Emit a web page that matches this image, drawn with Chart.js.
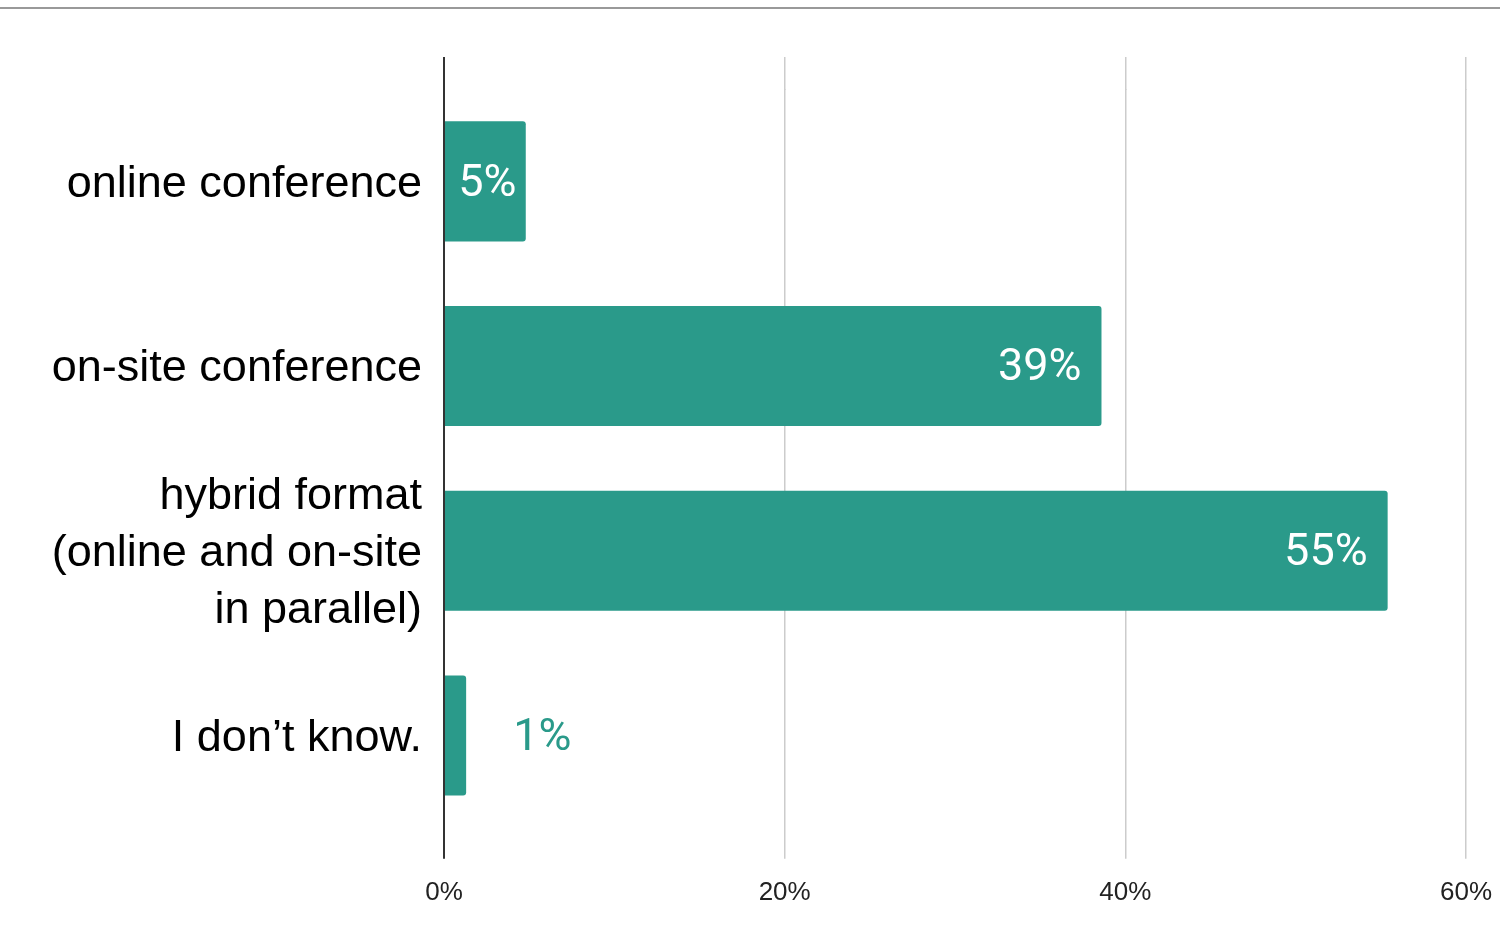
<!DOCTYPE html>
<html>
<head>
<meta charset="utf-8">
<script src="https://cdn.jsdelivr.net/npm/chart.js@4"></script>
<style>
  body { margin: 0; background: #fff; }
</style>
</head>
<body>
<canvas id="barchart" width="1500" height="940"></canvas>
<script>
var categories = [
    'online conference',
    'on-site conference',
    ['hybrid format', '(online and on-site', 'in parallel)'],
    'I don\u2019t know.'
];
var shares = [4.8, 38.6, 55.4, 1.3];
var tickValues = [0, 20, 40, 60];

var teal = '#2a9a8a';

function gridWidth(v) { return v === 0 ? 2 : 1.5; }
function gridColor(v) { return v === 0 ? '#333' : '#ccc'; }

// same snapping chart.js uses for grid lines
function alignPx(chart, px, w) {
    var dpr = chart.currentDevicePixelRatio;
    var half = Math.max(w / 2, 0.5);
    return Math.round((px - half) * dpr) / dpr + half;
}

// top rule + grid lines running above the plot area
var framePlugin = {
    id: 'frame',
    beforeDatasetsDraw: function (chart) {
        var ctx = chart.ctx;
        var x = chart.scales.x;
        var top = chart.chartArea.top;
        ctx.save();
        ctx.lineWidth = 2;
        ctx.strokeStyle = '#999';
        ctx.beginPath();
        ctx.moveTo(0, 8);
        ctx.lineTo(chart.width, 8);
        ctx.stroke();
        tickValues.forEach(function (v) {
            var w = gridWidth(v);
            var px = alignPx(chart, x.getPixelForValue(v), w);
            ctx.lineWidth = w;
            ctx.strokeStyle = gridColor(v);
            ctx.beginPath();
            ctx.moveTo(px, top - 32);
            ctx.lineTo(px, top + 1);
            ctx.stroke();
        });
        ctx.restore();
    }
};

// value labels on the bars
var valuePlugin = {
    id: 'values',
    afterDatasetsDraw: function (chart) {
        var ctx = chart.ctx;
        var meta = chart.getDatasetMeta(0);
        ctx.save();
        ctx.font = '45px Roboto';
        ctx.textBaseline = 'middle';
        meta.data.forEach(function (bar, i) {
            var text = Math.round(shares[i]) + '%';
            var tw = ctx.measureText(text).width;
            var w = bar.x - bar.base;
            if (tw + 40 <= w) {
                ctx.fillStyle = '#fff';
                ctx.textAlign = 'right';
                ctx.fillText(text, bar.x - 20, bar.y + 3);
            } else if (tw + 16 <= w) {
                ctx.fillStyle = '#fff';
                ctx.textAlign = 'center';
                ctx.fillText(text, (bar.x + bar.base) / 2 + 2, bar.y + 3);
            } else {
                ctx.fillStyle = teal;
                ctx.textAlign = 'left';
                ctx.fillText(text, bar.x + 47, bar.y + 3);
            }
        });
        ctx.restore();
    }
};

var barconfig = {
    type: 'bar',
    data: {
        labels: categories,
        datasets: [{
            data: shares,
            backgroundColor: teal,
            borderRadius: 3,
            borderSkipped: 'start',
            categoryPercentage: 1,
            barPercentage: 0.65
        }]
    },
    options: {
        indexAxis: 'y',
        responsive: false,
        animation: false,
        layout: { padding: { top: 89, bottom: 14, right: 34 } },
        plugins: {
            legend: { display: false },
            tooltip: { enabled: false }
        },
        scales: {
            x: {
                min: 0,
                max: 60,
                afterBuildTicks: function (scale) {
                    scale.ticks = tickValues.map(function (v) { return { value: v }; });
                },
                afterFit: function (scale) {
                    scale.paddingLeft = 0;
                    scale.paddingRight = 0;
                },
                border: { display: false },
                grid: {
                    tickLength: 31,
                    lineWidth: function (c) { return gridWidth(c.tick ? c.tick.value : 1); },
                    color: function (c) { return gridColor(c.tick ? c.tick.value : 1); }
                },
                ticks: {
                    padding: 18,
                    color: '#222',
                    font: { family: '"Liberation Sans", Arial, sans-serif', size: 26 },
                    callback: function (v) { return v + '%'; }
                }
            },
            y: {
                border: { display: false },
                grid: { display: false },
                afterFit: function (scale) { scale.width = 444; },
                ticks: {
                    padding: 14,
                    labelOffset: 3,
                    color: '#000',
                    font: { family: '"Liberation Sans", Arial, sans-serif', size: 45, lineHeight: 1.27 }
                }
            }
        }
    },
    plugins: [framePlugin, valuePlugin]
};

var barchart = new Chart(document.getElementById('barchart'), barconfig);
</script>
</body>
</html>
